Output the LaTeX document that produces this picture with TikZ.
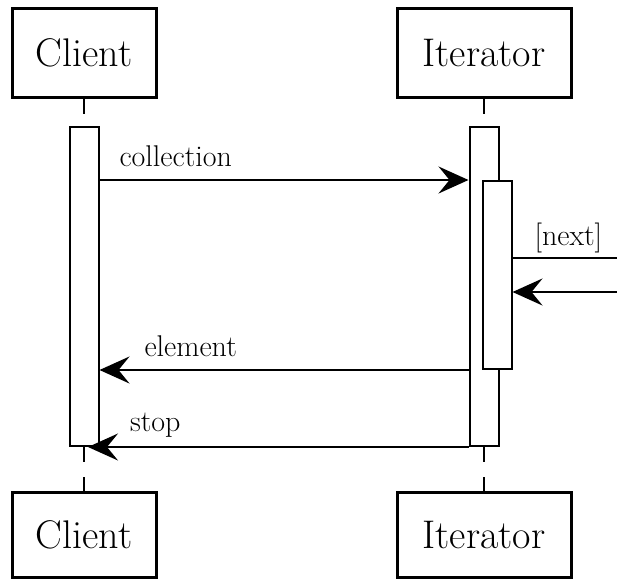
\documentclass[tikz,border=0pt]{standalone}
\usepackage{fontspec}
\usepackage{xcolor}
\usetikzlibrary{positioning,calc}
\usetikzlibrary{arrows.meta,arrows}
\tikzset{actor node/.style={rectangle,draw,line width=3pt,minimum width=144pt,minimum height=89pt,inner sep=0pt,font=\fontsize{40}{48}\selectfont}}
\tikzset{bar node/.style={rectangle,draw,fill=white,line width=2pt,minimum width=29pt,inner sep=0pt}}
\tikzset{life line/.style={line width=2pt,dash pattern=on 15pt off 15pt}}
\tikzset{msg/.style={line width=2pt,-{Stealth[length=30pt,width=27pt,inset=11pt]}}}
\tikzset{msg label/.style={inner sep=0pt,anchor=base west,font=\fontsize{30}{36}\selectfont}}

\begin{document}
\begin{tikzpicture}[x=1pt, y=-1pt, on grid]
      \useasboundingbox (0,0) rectangle (617,579);
      % the two objects, top and bottom
      \node[actor node] (c1) at (84,52.5) {Client};
      \node[actor node, minimum width=174pt] (i1) [right=400pt of c1] {Iterator};
      \node[actor node, minimum height=85pt] (c2) [below=482pt of c1] {Client};
      \node[actor node, minimum width=174pt, minimum height=85pt] (i2) [below=482pt of i1] {Iterator};
      % activations
      \node[bar node, minimum height=319pt] (cbar) at (84,286.5) {};
      \node[bar node, minimum height=319pt] (ibar) at (484,286.5) {};
      \node[bar node, minimum height=188pt] (inner) at (497,275) {};
      % lifelines
      \draw[life line] (c1.south) -- (cbar.north);
      \draw[life line] (cbar.south) -- (c2.north);
      \draw[life line] (i1.south) -- (ibar.north);
      \draw[life line] (ibar.south) -- (i2.north);
      % messages
      \coordinate (nextout) at (617,258);
      \coordinate (nextin) at (617,292);
      \draw[msg] (cbar.east |- inner.north) -- node[msg label, pos=0, xshift=19pt, yshift=14pt] (lcoll) {collection} (ibar.west |- inner.north);
      \draw[line width=2pt] (inner.east |- nextout) -- node[msg label, pos=0, xshift=21pt, yshift=13pt] (lnext) {[next]} (nextout);
      \draw[msg] (nextin) -- (inner.east |- nextin);
      \draw[msg] (ibar.west |- inner.south) -- node[msg label, pos=1, xshift=44pt, yshift=14pt] (lelem) {element} (cbar.east |- inner.south);
      \draw[msg] (ibar.south west) -- node[msg label, pos=1, xshift=41pt, yshift=16pt] (lstop) {stop} ([xshift=4pt]cbar.south);
    \end{tikzpicture}
\end{document}
